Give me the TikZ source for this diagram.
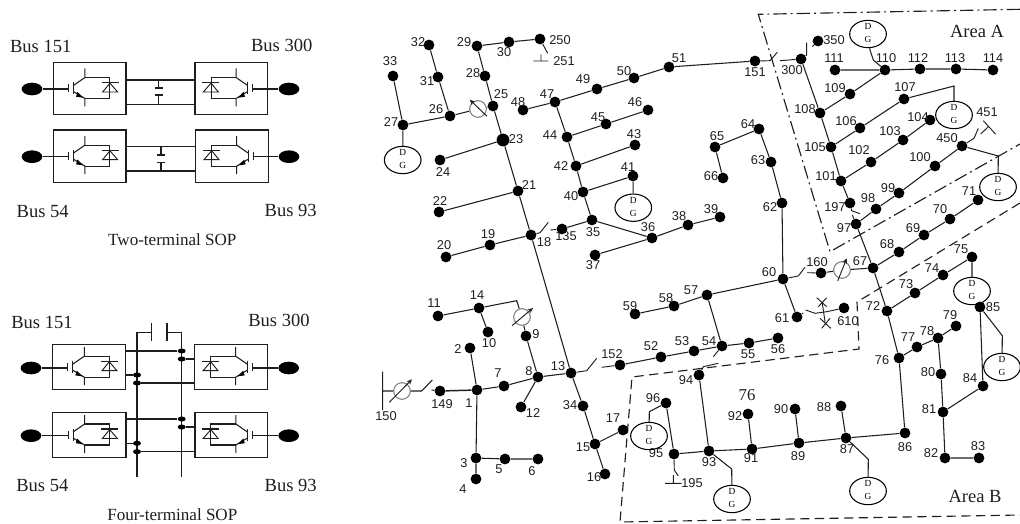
\documentclass[tikz,border=0pt]{standalone}
\usepackage{fontspec}
\setmainfont{Liberation Serif}
\newfontfamily\arialf{Liberation Sans}
\usetikzlibrary{shapes.geometric,arrows.meta,calc}
\definecolor{ink}{HTML}{1E1E1E}
\tikzset{
 wire/.style={draw=ink,line width=.8pt},
 thin wire/.style={draw=ink,line width=.7pt},
 busn/.style={circle,fill=black,inner sep=0pt,minimum size=8.1pt},
 bigbusn/.style={circle,fill=black,inner sep=0pt,minimum size=9.6pt},
 bl/.style={font=\arialf\fontsize{9.6}{10}\selectfont,text=ink,inner sep=0pt},
 dgn/.style={ellipse,draw=black,line width=.8pt,minimum width=27.5pt,minimum height=20.5pt,inner sep=0pt,font=\fontsize{7}{8}\selectfont},
 regn/.style={circle,draw=gray,line width=.8pt,minimum size=12.5pt,inner sep=0pt},
 regarrow/.style={draw=ink,line width=.7pt,-{Stealth[length=4pt,width=3.5pt,open]}},
 areat/.style={font=\fontsize{13.9}{15}\selectfont,text=ink,inner sep=0pt},
 capt/.style={font=\fontsize{12.8}{14}\selectfont,text=ink,inner sep=0pt},
 box/.style={draw=ink,line width=.8pt,inner sep=0pt,fill=white},
 sopbus/.style={ellipse,fill=black,inner sep=0pt,minimum width=15.5pt,minimum height=9.5pt},
 tdot/.style={ellipse,fill=black,inner sep=0pt,minimum width=6pt,minimum height=3.8pt},
 areaA/.style={draw=ink,line width=.85pt,dash pattern=on 10pt off 3pt on 1.5pt off 3pt},
 areaB/.style={draw=ink,line width=.85pt,dash pattern=on 7pt off 4pt},
 sopicon/.pic={
  \draw[thin wire] (-21.3,-4)--(-21.3,4);
  \draw[wire] (-16.3,-6)--(-16.3,6);
  \draw[wire] (-4.7,-20)--(-4.7,-11)--(-16.3,-3);
  \draw[wire] (-4.7,18)--(-4.7,10)--(-16.3,3);
  \fill[black] (-6.5,9.2)--(-12.2,3.4)--(-13.6,8.2)--cycle;
  \draw[wire] (-4.7,-11)--(20.3,-11)--(20.3,10)--(-4.7,10);
  \draw[wire] (12,-6)--(29,-6);
  \draw[thin wire] (20.3,-5.4)--(13,3.5)--(28,3.5)--cycle;
 }
}
\newcommand{\bs}[5]{\node[busn] (b#1) at (#2,#3) {}; \node[bl] (l#1) at (#4,#5) {#1};}
\newcommand{\dg}[3]{\node[dgn] (#1) at (#2,#3) {\parbox[c][0pt][c]{10pt}{\centering D\\[1.8pt]G}};}
\newcommand{\rgarrow}[5]{\draw[regarrow] ($(#1)+(#2,#3)$) -- ($(#1)+(#4,#5)$);}
\newcommand{\sopbox}[6]{% name, x1,y1,x2,y2, xscale of icon
 \node[box,minimum width=#4*.75pt-#2*.75pt,minimum height=#5*.75pt-#3*.75pt] (#1) at ({(#2+#4)/2},{(#3+#5)/2}) {};
 \pic[xscale=#6] at ({(#2+#4)/2},{(#3+#5)/2}) {sopicon};}
\begin{document}
\begin{tikzpicture}[x=.75pt,y=-.75pt]
\useasboundingbox (0,0) rectangle (1020,524);

% ---- Two-terminal SOP
\sopbox{ta}{53.3}{62.3}{126}{114.7}{1}
\sopbox{tb}{195}{62.3}{267.7}{114.7}{-1}
\sopbox{tc}{53.3}{130}{126}{182.3}{1}
\sopbox{td}{195.7}{130}{268.3}{182.3}{-1}
\node[sopbus] (tsa) at (32,89) {};
\node[sopbus] (tsb) at (289,89) {};
\node[sopbus] (tsc) at (32,156.7) {};
\node[sopbus] (tsd) at (289,156.7) {};
\coordinate (tga) at (68.4,89); \coordinate (tgb) at (252.7,89);
\coordinate (tgc) at (68.4,156.7); \coordinate (tgd) at (253.4,156.7);
\draw[wire] (tsa)--(tga) (tsb)--(tgb) (tsc)--(tgc) (tsd)--(tgd);
\draw[wire] (126,80)--(195,80) (126,104.7)--(195,104.7);
\draw[wire] (126,146.7)--(195.7,146.7) (126,171)--(195.7,171);
\draw[wire] (158.7,80)--(158.7,88) (154.7,88)--(162.7,88) (154.7,95)--(162.7,95) (158.7,95)--(158.7,104.7);
\draw[wire] (161,146.7)--(161,155) (157,155)--(165,155) (157,162.3)--(165,162.3) (161,162.3)--(161,171);
\node[areat] (tla) at (40.7,46.7) {Bus 151};
\node[areat] (tlb) at (281.7,45) {Bus 300};
\node[areat] (tlc) at (42.7,211) {Bus 54};
\node[areat] (tld) at (290.7,210) {Bus 93};
\node[capt] (tcap) at (172.3,240) {Two-terminal SOP};

% ---- Four-terminal SOP
\sopbox{fa}{52.7}{344.7}{125.3}{389.7}{1}
\sopbox{fb}{194.7}{344.7}{267.3}{389.7}{-1}
\sopbox{fc}{52.7}{412.7}{126}{457.3}{1}
\sopbox{fd}{195}{412.7}{267.3}{457.3}{-1}
\node[sopbus] (fsa) at (31,368) {};
\node[sopbus] (fsb) at (288.7,368) {};
\node[sopbus] (fsc) at (31,435.7) {};
\node[sopbus] (fsd) at (288.7,435.7) {};
\coordinate (fga) at (68,368); \coordinate (fgb) at (252.3,368);
\coordinate (fgc) at (68,435.7); \coordinate (fgd) at (252.4,435.7);
\draw[wire] (fsa)--(fga) (fsb)--(fgb) (fsc)--(fgc) (fsd)--(fgd);
\draw[wire] (137,477.3)--(137,332.7)--(151.7,332.7) (151.7,322.7)--(151.7,341.3);
\draw[wire] (181.7,477.3)--(181.7,332.7)--(167,332.7) (167,322.7)--(167,341.3);
\node[tdot] (d1) at (181.7,351) {};
\node[tdot] (d2) at (181.7,359) {};
\node[tdot] (d3) at (137,375) {};
\node[tdot] (d4) at (137,383) {};
\node[tdot] (d5) at (181.7,419) {};
\node[tdot] (d6) at (181.7,427) {};
\node[tdot] (d7) at (137,443.3) {};
\node[tdot] (d8) at (137,451.7) {};
\draw[wire] (125.3,351)--(d1) (d2)--(194.7,359) (125.3,375)--(d3) (d4)--(194.7,383);
\draw[wire] (126,419)--(d5) (d6)--(195,427) (126,443.3)--(d7) (d8)--(195,451.7);
\node[areat] (fla) at (42,322) {Bus 151};
\node[areat] (flb) at (279,320) {Bus 300};
\node[areat] (flc) at (42.3,485.7) {Bus 54};
\node[areat] (fld) at (290.7,485) {Bus 93};
\node[capt] (fcap) at (172.3,515) {Four-terminal SOP};

% ---- Areas
\draw[areaA] (1020,9.3)--(758.3,14.3)--(830,251.7)--(1020,144);
\draw[areaB] (1020,203)--(857,302)--(859,349)--(632,377)--(620,522)--(1020,515);
\node[areat] (aa) at (977,31) {Area A};
\node[areat] (ab) at (975,496) {Area B};

% ---- Buses: id, x, y, label x, label y
\bs{32}{429}{45}{418}{42}\bs{29}{477}{46}{464}{42}\bs{30}{509}{42}{504}{52}\bs{250}{540}{39}{560}{40}
\bs{33}{393}{76}{390}{61}\bs{31}{438}{77}{427}{81}\bs{28}{485}{76}{473}{73}\bs{25}{493}{106}{501}{94}
\bs{26}{450}{116}{436}{109}\bs{27}{403}{125}{391}{122}
\node[bigbusn] (b23) at (503,140) {}; \node[bl] (l23) at (516,139) {23};
\bs{24}{440}{160}{443}{172}\bs{21}{518}{191}{529}{185}\bs{22}{439}{212}{440}{201}\bs{18}{531}{235}{544}{242}
\bs{19}{490}{245}{488}{234}\bs{20}{446}{257}{444}{245}\bs{48}{523}{110}{518}{102}\bs{47}{555}{102}{547}{94}
\bs{49}{597}{89}{583}{79}\bs{50}{634}{78}{624}{71}\bs{51}{669}{67}{679}{58}\bs{46}{648}{110}{635}{102}
\bs{45}{606}{124}{598}{117}\bs{44}{567}{137}{550}{135}\bs{43}{635}{145}{634}{134}\bs{42}{576}{166}{561}{166}
\bs{41}{633}{176}{628}{167}\bs{40}{583}{192}{571}{196}\bs{35}{592}{220}{593}{232}\bs{135}{562}{229}{566}{236}
\bs{36}{652}{238}{648}{227}\bs{38}{688}{225}{679}{216}\bs{37}{595}{255}{593}{265}\bs{39}{720}{217}{711}{209}
\bs{151}{755}{61}{755}{72}\bs{300}{801}{59}{792}{70}\bs{350}{818}{41}{834}{40}\bs{111}{835}{70}{834}{58}
\bs{110}{885}{70}{886}{58}\bs{112}{920}{69}{918}{58}\bs{113}{956}{69}{955}{58}\bs{114}{993}{70}{993}{58}
\bs{109}{850}{94}{835}{88}\bs{108}{820}{113}{805}{109}\bs{107}{904}{99}{905}{87}\bs{106}{860}{128}{846}{121}
\bs{105}{831}{147}{815}{147}\bs{104}{930}{120}{918}{117}\bs{103}{903}{140}{890}{131}\bs{102}{871}{162}{859}{150}
\bs{101}{841}{181}{826}{176}\bs{100}{935}{166}{920}{157}\bs{99}{899}{193}{888}{188}\bs{450}{962}{146}{947}{138}
\bs{98}{876}{209}{868}{198}\bs{197}{850}{203}{835}{207}\bs{97}{856}{224}{844}{228}
\bs{64}{759}{129}{748}{124}\bs{65}{715}{147}{717}{136}\bs{66}{723}{178}{711}{176}\bs{63}{771}{162}{758}{160}
\bs{62}{782}{203}{770}{207}\bs{71}{978}{200}{969}{191}\bs{70}{950}{219}{940}{209}\bs{69}{924}{235}{913}{228}
\bs{68}{899}{252}{887}{244}\bs{75}{972}{257}{961}{249}\bs{67}{873}{268}{860}{261}\bs{160}{821}{273}{817}{262}
\bs{60}{783}{279}{769}{272}\bs{57}{707}{295}{691}{290}\bs{61}{797}{317}{782}{318}\bs{610}{844}{308}{848}{321}
\bs{74}{943}{275}{932}{268}\bs{73}{915}{293}{906}{284}\bs{72}{887}{311}{873}{306}\bs{85}{980}{307}{993}{307}
\bs{79}{956}{326}{950}{315}\bs{78}{938}{338}{927}{331}\bs{77}{917}{347}{908}{337}\bs{76}{899}{358}{882}{360}
\bs{80}{941}{374}{928}{372}\bs{84}{983}{386}{970}{378}\bs{81}{943}{412}{929}{409}\bs{86}{905}{433}{905}{447}
\bs{87}{846}{438}{847}{449}\bs{89}{799}{443}{798}{456}\bs{91}{752}{449}{751}{458}\bs{93}{709}{451}{709}{462}
\bs{90}{795}{409}{781}{409}\bs{88}{841}{406}{824}{407}\bs{92}{748}{414}{735}{416}\bs{82}{945}{458}{931}{453}
\bs{83}{979}{458}{978}{446}\bs{54}{722}{346}{709}{341}\bs{55}{749}{343}{748}{354}\bs{56}{778}{338}{778}{349}
\bs{94}{699}{375}{686}{380}\bs{59}{635}{314}{630}{306}\bs{58}{674}{306}{666}{298}\bs{11}{438}{316}{434}{303}
\bs{14}{479}{308}{477}{295}\bs{10}{488}{332}{489}{343}\bs{9}{526}{336}{536}{334}\bs{8}{538}{377}{529}{371}
\bs{13}{571}{373}{558}{366}\bs{7}{504}{386}{498}{373}\bs{1}{477}{390}{469}{403}\bs{2}{470}{348}{458}{349}
\bs{149}{440}{391}{442}{404}\bs{12}{521}{407}{533}{413}\bs{34}{583}{406}{570}{405}\bs{17}{623}{430}{613}{418}
\bs{15}{595}{444}{583}{447}\bs{16}{605}{474}{594}{477}\bs{3}{476}{458}{464}{463}\bs{5}{505}{459}{499}{469}
\bs{6}{538}{459}{532}{471}\bs{4}{476}{479}{463}{489}\bs{152}{620}{365}{612}{354}\bs{52}{661}{357}{651}{346}
\bs{53}{694}{351}{682}{341}\bs{96}{666}{403}{653}{398}\bs{95}{674}{454}{656}{453}
\node[bl] (l251) at (564,61) {251};
\node[bl] (l451) at (987,112) {451};
\node[bl] (l150) at (386,416) {150};
\node[bl] (l195) at (692,483) {195};
\node[font=\fontsize{12.5}{14}\selectfont,text=ink,inner sep=0pt] (l76b) at (747,395) {76};

% ---- DG units
\dg{dg27}{402.7}{160}\dg{dg41}{633.3}{207.7}\dg{dg110}{868}{34}\dg{dg107}{954}{115}
\dg{dg450}{998}{187}\dg{dg75}{972}{291}\dg{dg85}{1002}{367}\dg{dg96}{649}{436}
\dg{dg93}{732}{499}\dg{dg87}{868}{491}

% ---- Regulators
\node[regn] (r25) at (478,109) {};
\node[regn] (r9) at (522,317) {};
\node[regn] (r150) at (402,391) {};
\node[regn] (r160) at (842,270) {};
\rgarrow{r25}{9}{7.3}{-8.3}{-9.3}
\rgarrow{r9}{-10}{8.7}{11}{-9}
\rgarrow{r150}{-12.7}{11.3}{10}{-11.7}
\rgarrow{r160}{-4.3}{11}{4.7}{-11.7}

% ---- Branches
\draw[wire] (b32)--(b31)--(b26)--(b27)--(b33);
\draw[wire] (b26)--(r25)--(b25);
\draw[wire] (b250)--(b30)--(b29)--(b28)--(b25)--(b23)--(b21)--(b18)--(b13)--(b34)--(b15)--(b16);
\draw[wire] (b23)--(b24) (b21)--(b22) (b18)--(b19)--(b20);
\draw[wire] (b135)--(b35)--(b36)--(b38)--(b39) (b36)--(b37);
\draw[wire] (b35)--(b40)--(b42)--(b44)--(b47)--(b48);
\draw[wire] (b47)--(b49)--(b50)--(b51)--(b151);
\draw[wire] (b44)--(b45)--(b46) (b42)--(b43) (b40)--(b41) (b41)--(dg41);
\draw[wire] (b27)--(dg27);
\draw[wire] (b300)--(b108)--(b105)--(b101)--(b197);
\draw[wire] (b108)--(b109)--(b110) (b111)--(b110)--(b112)--(b113)--(b114);
\draw[wire] (b105)--(b106)--(b107) (b101)--(b102)--(b103)--(b104);
\draw[wire] (b97)--(b98)--(b99)--(b100)--(b450);
\draw[wire] (b97)--(b67)--(b72)--(b76)--(b86)--(b87)--(b89)--(b91)--(b93)--(b95)--(b96);
\draw[wire] (b93)--(b94) (b91)--(b92) (b89)--(b90) (b87)--(b88);
\draw[wire] (b64)--(b65)--(b66) (b64)--(b63)--(b62)--(b60)--(b57)--(b58)--(b59);
\draw[wire] (b57)--(b54)--(b55)--(b56) (b60)--(b61);
\draw[wire] (b160)--(r160)--(b67);
\draw[wire] (b67)--(b68)--(b69)--(b70)--(b71);
\draw[wire] (b72)--(b73)--(b74)--(b75)--(dg75);
\draw[wire] (b76)--(b77)--(b78)--(b79) (b78)--(b80)--(b81)--(b82)--(b83);
\draw[wire] (b81)--(b84)--(b85);
\draw[wire] (b152)--(b52)--(b53)--(b54);
\draw[wire] (b13)--(b8)--(b7)--(b1) (b1)--(b2);
\draw[wire] (b1)--(b3)--(b4) (b3)--(b5)--(b6) (b8)--(b12) (b8)--(b9)--(r9);
\draw[wire] (b11)--(b14)--(b10) (b15)--(b17);
\draw[wire,line width=1.1pt] (b149)--(b1);

% corners up to DG units and regulators
\coordinate (c14) at (516.7,300.7);
\draw[wire] (b14)--(c14)--(r9);
\coordinate (c96) at (649.3,411.7);
\draw[wire] (b96)--(c96)--(dg96);
\coordinate (c93) at (731.7,469);
\draw[wire] (b93)--(c93)--(dg93);
\coordinate (c87) at (868.3,459.3);
\draw[wire] (b87)--(c87)--(dg87);
\coordinate (c85) at (1002.3,335.7);
\draw[wire] (b85)--(c85)--(dg85);
\coordinate (c107) at (954,86);
\draw[wire] (b107)--(c107)--(dg107);
\coordinate (c450) at (998.3,156);
\draw[wire] (b450)--(c450)--(dg450);
\coordinate (c110a) at (870,50); \coordinate (c110b) at (873.3,60);
\draw[wire] (dg110)--(c110a)--(c110b)--(b110);

% switches
\coordinate (k18a) at (540,232.7); \coordinate (k18b) at (548.3,222.3); \coordinate (k18c) at (550.3,230);
\draw[thin wire] (b18)--(k18a)--(k18b) (k18c)--(b135);
\coordinate (k151a) at (770,60.7); \coordinate (k151b) at (777.3,52.3); \coordinate (k151c) at (780,60.7);
\draw[thin wire] (b151)--(k151a)--(k151b) (k151c)--(b300);
\coordinate (k300a) at (806.7,55); \coordinate (k300b) at (806.7,42.7); \coordinate (k300c) at (812.3,46.7);
\draw[thin wire] (b300)--(k300a)--(k300b) (k300c)--(b350);
\coordinate (k197a) at (851.7,210.7); \coordinate (k197b) at (860,213.7); \coordinate (k197c) at (852.3,215);
\draw[thin wire] (b197)--(k197a)--(k197b) (k197c)--(b97);
\coordinate (k450a) at (974,138.3); \coordinate (k450b) at (978.3,128.3);
\coordinate (k451a) at (980.7,134); \coordinate (k451b) at (988.3,126.7);
\coordinate (k451c) at (983.3,120.7); \coordinate (k451d) at (995.7,134.3);
\draw[thin wire] (b450)--(k450a)--(k450b) (k451a)--(k451b) (k451c)--(k451d);
\coordinate (k60a) at (798.3,276); \coordinate (k60b) at (805,267.3); \coordinate (k60c) at (807.3,272.7);
\draw[thin wire] (b60)--(k60a)--(k60b) (k60c)--(b160);
\coordinate (k61a) at (803.3,313); \coordinate (k61b) at (805.7,310); \coordinate (k61c) at (815,313.3); \coordinate (k61d) at (826.7,311.7);
\draw[thin wire] (b61)--(k61a) (k61b)--(k61c)--(k61d)--(b610);
\draw[thin wire] (816.7,297.7)--(826.7,306.7) (826.7,297.7)--(818.3,306.7) (820,318.3)--(830.7,328.3) (830,318.3)--(821.7,328.3) (822.3,303.3)--(825,321.7);
\coordinate (k13a) at (586.7,370.7); \coordinate (k13b) at (596.7,358.3); \coordinate (k13c) at (601.7,367.3);
\draw[thin wire] (b13)--(k13a)--(k13b) (k13c)--(b152);
\coordinate (k94a) at (703.3,366.7); \coordinate (k94b) at (718.3,363.3); \coordinate (k54a) at (713.3,356.7);
\draw[thin wire] (b94)--(k94a)--(k94b) (b54)--(k54a);
\coordinate (k250a) at (547.7,53.3); \coordinate (k250b) at (541,54.3); \coordinate (k250c) at (541,61);
\coordinate (k250d) at (533.3,61); \coordinate (k250e) at (548.3,61);
\draw[thin wire] (b250)--(k250a) (k250b)--(k250c) (k250d)--(k250e);
\coordinate (k95a) at (674.3,470); \coordinate (k95b) at (678.3,476); \coordinate (k95c) at (673.3,475);
\coordinate (k95d) at (673.3,483.3); \coordinate (k95e) at (665,483.3); \coordinate (k95f) at (681.7,483.3);
\draw[thin wire] (b95)--(k95a)--(k95b) (k95c)--(k95d) (k95e)--(k95f);
\coordinate (k150a) at (382.7,371.7); \coordinate (k150b) at (382.7,410); \coordinate (k150c) at (382.7,391);
\coordinate (k150d) at (421.7,391); \coordinate (k150e) at (432.3,380); \coordinate (k150f) at (431.7,390);
\draw[wire] (k150a)--(k150b) (k150c)--(r150)--(k150d)--(k150e) (k150f)--(b149);
\end{tikzpicture}
\end{document}
